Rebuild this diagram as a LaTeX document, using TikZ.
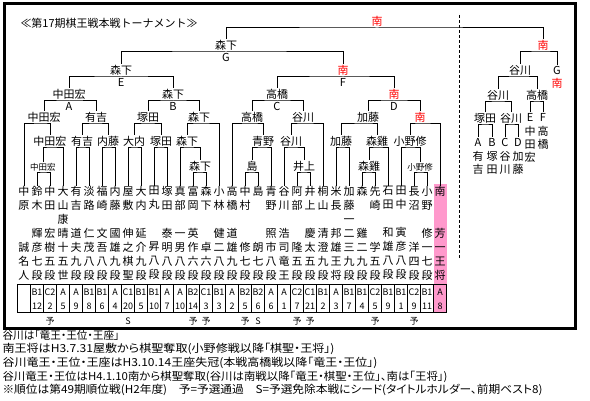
\documentclass[tikz,border=0pt]{standalone}
\usepackage{fontspec}
\setmainfont{Noto Sans CJK JP}
\newfontfamily\jpp[RawFeature=+palt]{Noto Sans CJK JP}
\definecolor{minamired}{RGB}{255,0,0}
\definecolor{seedpink}{RGB}{255,153,204}
% stretch a line of text to a given width (pt)
\newcommand\fitto[2]{\setbox0\hbox{#2}\scalebox{\fpeval{#1/\the\wd0}}[1]{\copy0}}
\tikzset{
  win/.style={anchor=south,inner sep=1pt,font=\fontsize{11}{11}\selectfont},
  sm/.style={font=\fontsize{8.5}{8.5}\selectfont},
  nan/.style={text=minamired},
  ltr/.style={anchor=north,inner sep=1pt,font=\fontsize{11}{11}\selectfont},
  pcol/.style={anchor=north,inner sep=0pt,align=center,font=\fontsize{11}{14}\selectfont},
  vname/.style={anchor=north,inner sep=0pt,align=center,font=\fontsize{11}{13}\selectfont},
  cell/.style={inner sep=0pt,font=\fontsize{9}{9}\selectfont},
  yomark/.style={inner sep=0pt,font=\fontsize{9}{9}\selectfont},
  note/.style={anchor=west,inner sep=0pt,font=\jpp\fontsize{11}{11}\selectfont}
}
\begin{document}
\begin{tikzpicture}[x=1pt,y=-1pt,line width=1pt]
  \useasboundingbox (0,0) rectangle (590,401);
  \draw[line width=3pt] (4,4) rectangle (575,328.5);
  \node[anchor=west,inner sep=0pt,font=\fontsize{11}{11}\selectfont] (title) at (20,23) {\fitto{177}{≪第17期棋王戦本戦トーナメント≫}};
  \draw[dash pattern=on 3pt off 2pt] (459,15) -- (459,258);

  % players
  \fill[seedpink] (433.5,184) rectangle (446.5,313);
  \foreach \k/\t in {1/{中\\原\\~\\~\\誠\\名\\人}, 2/{鈴\\木\\~\\輝\\彦\\七\\段},
      3/{中\\田\\~\\宏\\樹\\五\\段}, 4/{大\\山\\康\\晴\\十\\五\\世},
      5/{有\\吉\\~\\道\\夫\\九\\段}, 6/{淡\\路\\~\\仁\\茂\\八\\段},
      7/{福\\崎\\~\\文\\吾\\八\\段}, 8/{内\\藤\\~\\國\\雄\\九\\段},
      9/{屋\\敷\\~\\伸\\之\\棋\\聖}, 10/{大\\内\\~\\延\\介\\九\\段},
      11/{田\\丸\\~\\~\\昇\\八\\段}, 12/{塚\\田\\~\\泰\\明\\八\\段},
      13/{真\\部\\~\\一\\男\\八\\段}, 14/{富\\岡\\~\\英\\作\\六\\段},
      15/{森\\下\\~\\~\\卓\\六\\段}, 16/{小\\林\\~\\健\\二\\八\\段},
      17/{高\\橋\\~\\道\\雄\\九\\段}, 18/{中\\村\\~\\~\\修\\七\\段},
      19/{島\\~\\~\\~\\朗\\七\\段}, 20/{青\\野\\~\\照\\市\\八\\段},
      21/{谷\\川\\~\\浩\\司\\竜\\王}, 22/{阿\\部\\~\\~\\隆\\五\\段},
      23/{井\\上\\~\\慶\\太\\五\\段}, 24/{桐\\山\\~\\清\\澄\\九\\段},
      25/{米\\長\\~\\邦\\雄\\王\\将}, 26/{加\\藤\\一\\二\\三\\九\\段},
      27/{森\\~\\~\\雞\\二\\九\\段}, 28/{先\\崎\\~\\~\\学\\五\\段},
      29/{石\\田\\~\\和\\雄\\八\\段}, 30/{田\\中\\~\\寅\\彦\\八\\段},
      31/{長\\沼\\~\\~\\洋\\四\\段}, 32/{小\\野\\~\\修\\一\\七\\段},
      33/{南\\~\\~\\芳\\一\\王\\将}}
    \node[pcol] (p\k) at (11+13*\k,186) {\t};

  % class and rank
  \draw (17.5,285) rectangle (446.5,313);
  \foreach \k in {1,...,32} \draw (17.5+13*\k,285) -- (17.5+13*\k,313);
  \foreach \k/\g/\n in {2/B1/12, 3/C2/2, 4/A/5, 5/A/9, 6/B1/8, 7/B1/6, 8/A/4, 9/C1/20,
      10/B1/5, 11/B1/10, 12/A/7, 13/A/10, 14/B2/14, 15/C1/3, 16/B1/3, 17/A/2, 18/B2/5,
      19/B2/6, 20/A/6, 21/A/1, 22/C2/7, 23/C1/21, 24/B1/2, 25/A/3, 26/B1/7, 27/B1/4,
      28/C2/5, 29/B1/9, 30/B1/1, 31/C2/9, 32/B1/11, 33/A/8} {
    \node[cell] (g\k) at (11+13*\k,292.5) {\g};
    \node[cell] (n\k) at (11+13*\k,306) {\n};
  }
  \foreach \k/\s in {3/予, 9/S, 14/予, 15/予, 18/予, 19/S, 22/予, 23/予, 28/予, 31/予}
    \node[yomark] (s\k) at (11+13*\k,321) {\s};

  % winners
  \node[win,sm] (a4) at (43,173) {中田宏};
  \node[win] (b4) at (200,173) {森下};
  \node[win] (c4a) at (252,173) {島};
  \node[win] (c4b) at (304,173) {井上};
  \node[win] (d4a) at (369,173) {森雞};
  \node[win,sm] (d4b) at (420,173) {小野修};
  \node[win] (a3) at (50,148) {中田宏};
  \node[win] (a3b) at (82,148) {有吉};
  \node[win] (a3c) at (108,148) {内藤};
  \node[win] (b3a) at (134,148) {大内};
  \node[win] (b3b) at (161,148) {塚田};
  \node[win] (b3c) at (187,148) {森下};
  \node[win] (c3a) at (263,148) {青野};
  \node[win] (c3b) at (291,148) {谷川};
  \node[win] (d3a) at (341,148) {加藤};
  \node[win] (d3b) at (377,148) {森雞};
  \node[win] (d3c) at (410,148) {小野修};
  \node[win] (a2a) at (44,124) {中田宏};
  \node[win] (a2b) at (96,124) {有吉};
  \node[win] (b2a) at (148,124) {塚田};
  \node[win] (b2b) at (199,124) {森下};
  \node[win] (c2a) at (252,124) {高橋};
  \node[win] (c2b) at (303,124) {谷川};
  \node[win] (d2a) at (368,124) {加藤};
  \node[win,nan] (d2b) at (420,124) {南};
  \node[win] (wa) at (69,101) {中田宏};
  \node[win] (wb) at (173,101) {森下};
  \node[win] (wc) at (277,101) {高橋};
  \node[win,nan] (wd) at (394,101) {南};
  \node[win] (we) at (121,77) {森下};
  \node[win,nan] (wf) at (343,77) {南};
  \node[win] (wg) at (226,52) {森下};
  \node[win,nan] (wfin) at (377,28) {南};

  % losers
  \node[ltr] (la) at (69,101) {A};
  \node[ltr] (lb) at (173,101) {B};
  \node[ltr] (lc) at (277,101) {C};
  \node[ltr] (ld) at (394,101) {D};
  \node[ltr] (le) at (121,77) {E};
  \node[ltr] (lf) at (343,77) {F};
  \node[ltr] (lg) at (226,52) {G};

  % losers' side
  \node[ltr] (lA) at (478,137) {A};
  \node[ltr] (lB) at (492,137) {B};
  \node[ltr] (lC) at (505,137) {C};
  \node[ltr] (lD) at (518,137) {D};
  \node[ltr] (lE) at (530,112) {E};
  \node[ltr] (lF) at (543,112) {F};
  \node[ltr] (lG) at (557,65) {G};
  \node[vname] (nA) at (478,151) {有\\吉};
  \node[vname] (nB) at (492,151) {塚\\田};
  \node[vname] (nC) at (505,151) {谷\\川};
  \node[vname] (nD) at (518,151) {加\\藤};
  \node[vname] (nE) at (530,126) {中\\田\\宏};
  \node[vname] (nF) at (543,126) {高\\橋};
  \node[vname,nan] (nG) at (557,78) {南};
  \node[win] (r1) at (485,125) {塚田};
  \node[win] (r2) at (511,125) {谷川};
  \node[win] (r3) at (537,102) {高橋};
  \node[win] (r4) at (498,102) {谷川};
  \node[win] (r5) at (520,77) {谷川};
  \node[win,nan] (r6) at (543,52) {南};

  \foreach \m/\a/\b in {a4/p2/p3, b4/p14/p15, c4a/p18/p19, c4b/p22/p23, d4a/p27/p28,
      d4b/p31/p32, a3/a4/p4, a3b/p5/p6, a3c/p7/p8, b3a/p9/p10, b3b/p11/p12, b3c/p13/b4,
      c3a/c4a/p20, c3b/p21/c4b, d3a/p25/p26, d3b/d4a/p29, d3c/p30/d4b, a2a/p1/a3,
      a2b/a3b/a3c, b2a/b3a/b3b, b2b/b3c/p16, c2a/p17/c3a, c2b/c3b/p24, d2a/d3a/d3b,
      d2b/d3c/p33, wa/a2a/a2b, wb/b2a/b2b, wc/c2a/c2b, wd/d2a/d2b, we/wa/wb, wf/wc/wd,
      wg/we/wf, r1/lA/lB, r2/lC/lD, r3/lE/lF, r4/r1/r2, r5/r4/r3, r6/r5/lG, wfin/wg/r6}
    \draw (\a.north) |- (\m.south) -| (\b.north);

  % notes
  \node[note] (f1) at (2,335) {\fitto{117}{谷川は「竜王・王位・王座」}};
  \node[note] (f2) at (2,349) {\fitto{332}{南王将はH3.7.31屋敷から棋聖奪取(小野修戦以降「棋聖・王将」)}};
  \node[note] (f3) at (2,363) {\fitto{375}{谷川竜王・王位・王座はH3.10.14王座失冠(本戦高橋戦以降「竜王・王位」)}};
  \node[note] (f4) at (2,376.5) {\fitto{445}{谷川竜王・王位はH4.1.10南から棋聖奪取(谷川は南戦以降「竜王・棋聖・王位」、南は「王将」)}};
  \node[note] (f5) at (2,390) {\fitto{540}{※順位は第49期順位戦(H2年度)　予=予選通過　S=予選免除本戦にシード(タイトルホルダー、前期ベスト8)}};
\end{tikzpicture}
\end{document}
